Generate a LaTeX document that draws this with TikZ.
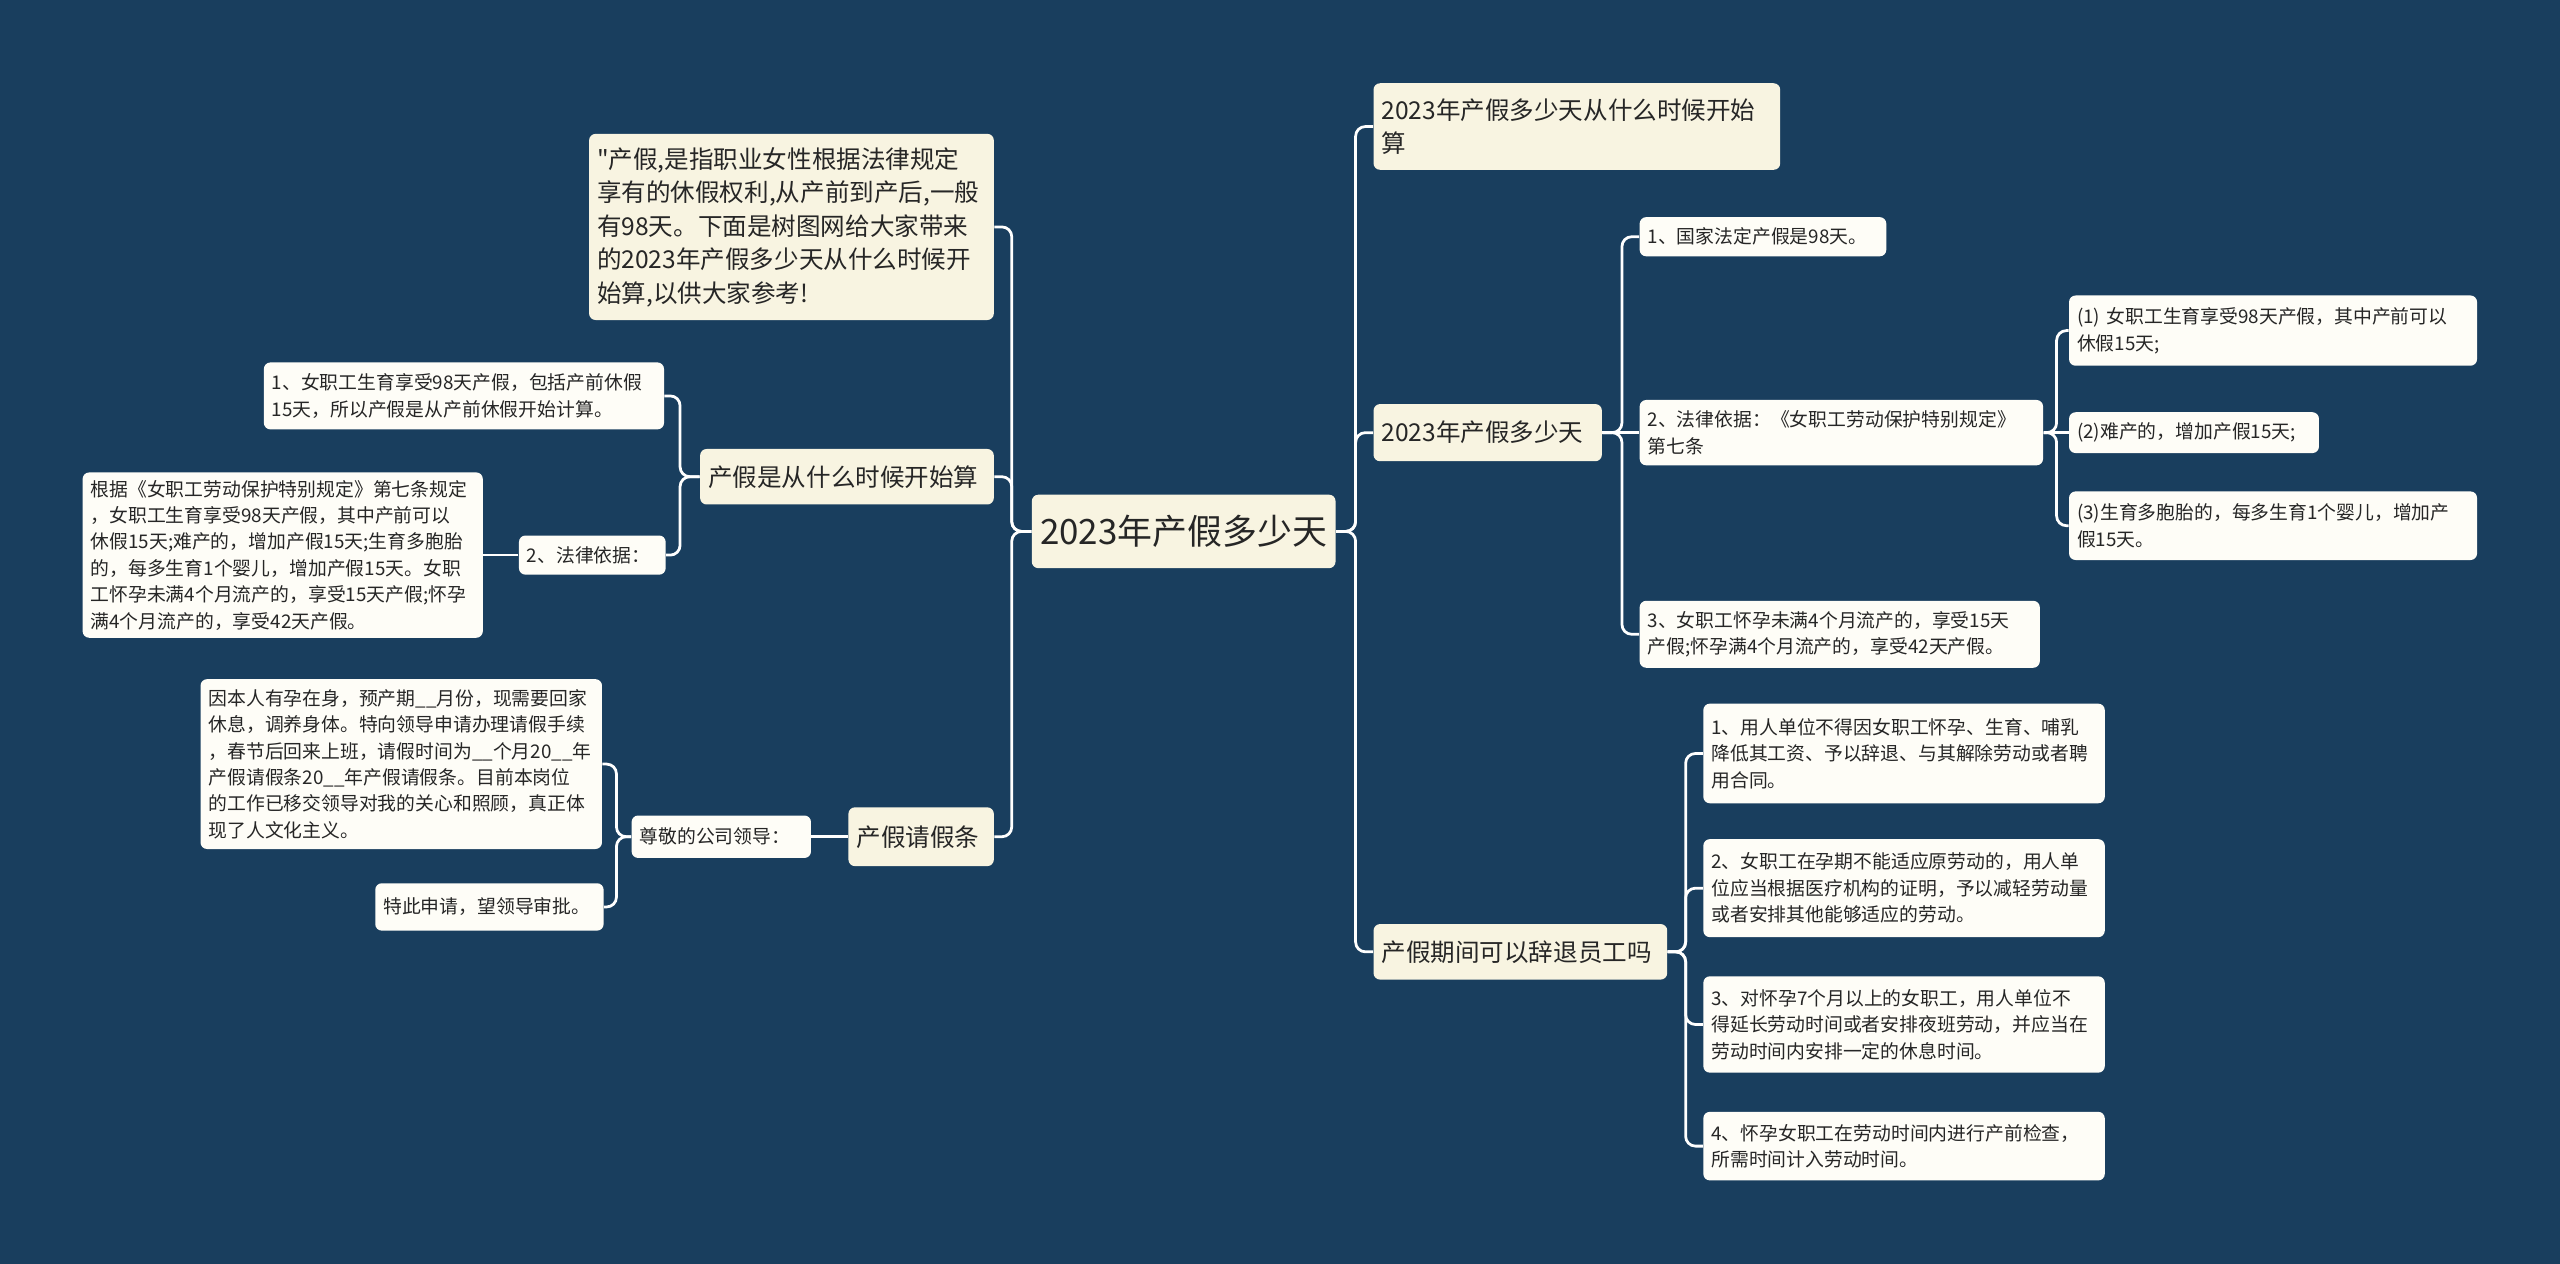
\documentclass[tikz,border=0pt]{standalone}
\usepackage{fontspec}
\setmainfont[Ligatures=TeXOff]{Noto Sans CJK SC}

\definecolor{bgblue}{HTML}{193E5E}
\definecolor{cream}{HTML}{F8F4E1}
\definecolor{paper}{HTML}{FEFDF7}
\definecolor{ink}{HTML}{262626}

\begin{document}
\begin{tikzpicture}[x=0.025cm,y=-0.025cm]
   \tikzstyle{root}=[fill=cream,rounded corners=1mm,text=ink,minimum width=46.5mm,minimum height=11.25mm,font=\fontsize{15.2}{18}\selectfont]
   \tikzstyle{topic}=[fill=cream,rounded corners=1mm,text=ink,align=left,inner xsep=3.5pt,font=\fontsize{10.7}{14.6}\selectfont]
   \tikzstyle{leaf}=[fill=paper,rounded corners=1mm,text=ink,align=left,inner xsep=3.5pt,font=\fontsize{8.2}{11.5}\selectfont]
   \tikzstyle{link}=[draw=white,line width=1.2pt,rounded corners=1.5mm]

   \fill [bgblue] (0,0) rectangle (1568,774) ;
   \useasboundingbox (0,0) rectangle (1568,774) ;

   \node (main) [root] at (725,325.5) {2023年产假多少天} ;

   % right half
   \node (r1) [topic,anchor=west,text width=59.8mm,minimum height=13.25mm] at (841,77.5) {2023年产假多少天从什么时候开始\\算} ;
   \node (r2) [topic,anchor=west,text width=32.5mm,minimum height=8.75mm] at (841,265) {2023年产假多少天} ;
   \node (r3) [topic,anchor=west,text width=42.5mm,minimum height=8.5mm] at (841,583) {产假期间可以辞退员工吗} ;

   \node (a1) [leaf,anchor=west,text width=35.3mm,minimum height=6mm] at (1004,145) {1、国家法定产假是98天。} ;
   \node (a2) [leaf,anchor=west,text width=59.3mm,minimum height=10mm] at (1004,265) {2、法律依据：《女职工劳动保护特别规定》\\第七条} ;
   \node (a3) [leaf,anchor=west,text width=58.8mm,minimum height=10.25mm] at (1004,388.5) {3、女职工怀孕未满4个月流产的，享受15天\\产假;怀孕满4个月流产的，享受42天产假。} ;

   \node (b1) [leaf,anchor=west,text width=60mm,minimum height=10.75mm] at (1267,202.5) {(1) 女职工生育享受98天产假，其中产前可以\\休假15天;} ;
   \node (b2) [leaf,anchor=west,text width=35.8mm,minimum height=6.25mm] at (1267,265) {(2)难产的，增加产假15天;} ;
   \node (b3) [leaf,anchor=west,text width=60mm,minimum height=10.5mm] at (1267,322) {(3)生育多胞胎的，每多生育1个婴儿，增加产\\假15天。} ;

   \node (c1) [leaf,anchor=west,text width=59mm,minimum height=15.25mm] at (1043,461.5) {1、用人单位不得因女职工怀孕、生育、哺乳\\降低其工资、予以辞退、与其解除劳动或者聘\\用合同。} ;
   \node (c2) [leaf,anchor=west,text width=59mm,minimum height=15mm] at (1043,544) {2、女职工在孕期不能适应原劳动的，用人单\\位应当根据医疗机构的证明，予以减轻劳动量\\或者安排其他能够适应的劳动。} ;
   \node (c3) [leaf,anchor=west,text width=59mm,minimum height=14.75mm] at (1043,627.5) {3、对怀孕7个月以上的女职工，用人单位不\\得延长劳动时间或者安排夜班劳动，并应当在\\劳动时间内安排一定的休息时间。} ;
   \node (c4) [leaf,anchor=west,text width=59mm,minimum height=10.5mm] at (1043,702) {4、怀孕女职工在劳动时间内进行产前检查，\\所需时间计入劳动时间。} ;

   % left half
   \node (l1) [topic,anchor=east,text width=59.5mm,minimum height=28.5mm] at (609,139) {"产假,是指职业女性根据法律规定\\享有的休假权利,从产前到产后,一般\\有98天。下面是树图网给大家带来\\的2023年产假多少天从什么时候开\\始算,以供大家参考!} ;
   \node (l2) [topic,anchor=east,text width=42.5mm,minimum height=8.5mm] at (609,292) {产假是从什么时候开始算} ;
   \node (l3) [topic,anchor=east,text width=19.8mm,minimum height=9mm] at (609,512.5) {产假请假条} ;

   \node (d1) [leaf,anchor=east,text width=58.8mm,minimum height=10.25mm] at (407,242.5) {1、女职工生育享受98天产假，包括产前休假\\15天，所以产假是从产前休假开始计算。} ;
   \node (d2) [leaf,anchor=east,text width=20mm,minimum height=6mm] at (408,340) {2、法律依据：} ;
   \node (e1) [leaf,anchor=east,text width=58.8mm,minimum height=25.25mm] at (296,340) {根据《女职工劳动保护特别规定》第七条规定\\，女职工生育享受98天产假，其中产前可以\\休假15天;难产的，增加产假15天;生育多胞胎\\的，每多生育1个婴儿，增加产假15天。女职\\工怀孕未满4个月流产的，享受15天产假;怀孕\\满4个月流产的，享受42天产假。} ;

   \node (f1) [leaf,anchor=east,text width=25mm,minimum height=6.5mm] at (497,512.5) {尊敬的公司领导：} ;
   \node (g1) [leaf,anchor=east,text width=59mm,minimum height=26mm] at (369,468) {因本人有孕在身，预产期\_\_月份，现需要回家\\休息，调养身体。特向领导申请办理请假手续\\，春节后回来上班，请假时间为\_\_个月20\_\_年\\产假请假条20\_\_年产假请假条。目前本岗位\\的工作已移交领导对我的关心和照顾，真正体\\现了人文化主义。} ;
   \node (g2) [leaf,anchor=east,text width=32.5mm,minimum height=7.25mm] at (370,555.5) {特此申请，望领导审批。} ;

   % connectors
   \draw [link] (main.east) -- ++(12,0) |- (r1.west) ;
   \draw [link] (main.east) -- ++(12,0) |- (r2.west) ;
   \draw [link] (main.east) -- ++(12,0) |- (r3.west) ;
   \draw [link] (r2.east) -- ++(12,0) |- (a1.west) ;
   \draw [link] (r2.east) -- (a2.west) ;
   \draw [link] (r2.east) -- ++(12,0) |- (a3.west) ;
   \draw [link] (a2.east) -- ++(8,0) |- (b1.west) ;
   \draw [link] (a2.east) -- (b2.west) ;
   \draw [link] (a2.east) -- ++(8,0) |- (b3.west) ;
   \draw [link] (r3.east) -- ++(11,0) |- (c1.west) ;
   \draw [link] (r3.east) -- ++(11,0) |- (c2.west) ;
   \draw [link] (r3.east) -- ++(11,0) |- (c3.west) ;
   \draw [link] (r3.east) -- ++(11,0) |- (c4.west) ;
   \draw [link] (main.west) -- ++(-12,0) |- (l1.east) ;
   \draw [link] (main.west) -- ++(-12,0) |- (l2.east) ;
   \draw [link] (main.west) -- ++(-12,0) |- (l3.east) ;
   \draw [link] (l2.west) -- ++(-12,0) |- (d1.east) ;
   \draw [link] (l2.west) -- ++(-12,0) |- (d2.east) ;
   \draw [link] (d2.west) -- (e1.east) ;
   \draw [link] (l3.west) -- (f1.east) ;
   \draw [link] (f1.west) -- ++(-9,0) |- (g1.east) ;
   \draw [link] (f1.west) -- ++(-9,0) |- (g2.east) ;
\end{tikzpicture}
\end{document}
